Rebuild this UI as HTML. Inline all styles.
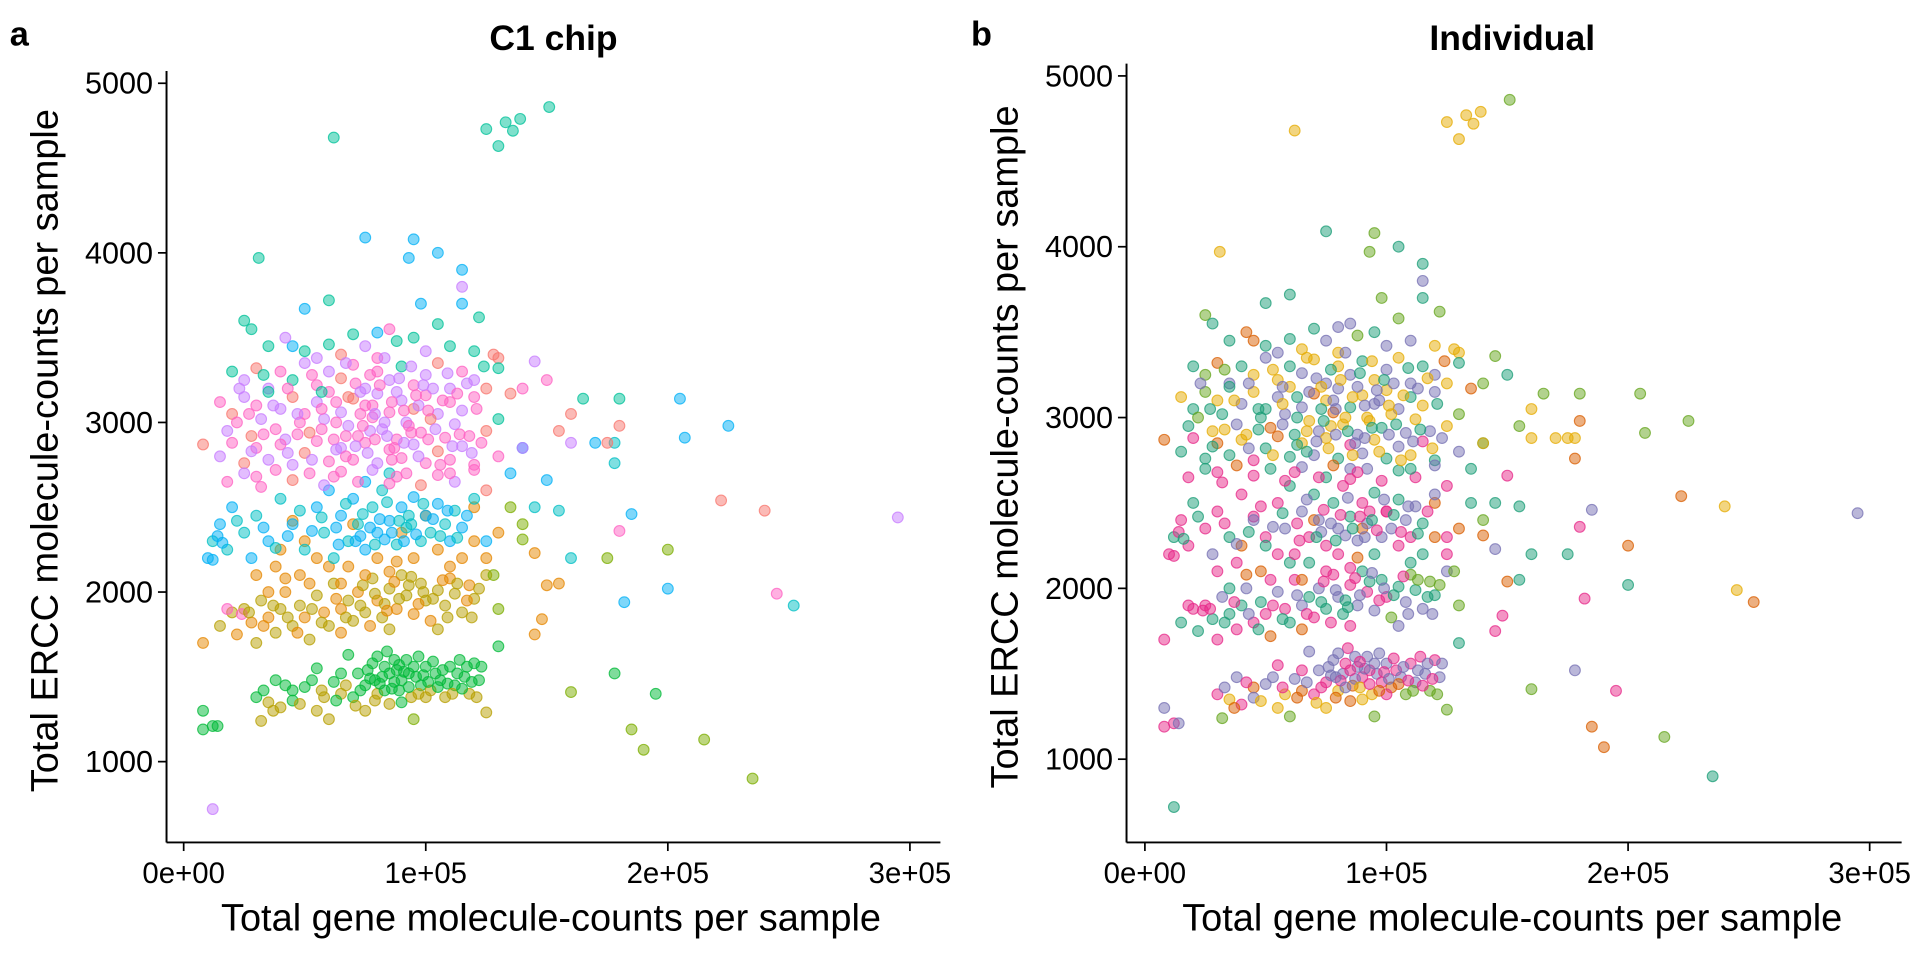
<!DOCTYPE html>
<html><head><meta charset="utf-8"><style>
html,body{margin:0;padding:0;background:#fff;}
svg{display:block;font-family:"Liberation Sans",Arial,sans-serif;}
</style></head><body>
<svg id="chart" width="1920" height="960" viewBox="0 0 1568 784" xmlns="http://www.w3.org/2000/svg">
<g id="panelA"></g>
<g id="panelB"></g>
</svg>
<script>
// data: [x (thousands of gene molecules), y (ERCC molecules), chip id, individual id]
const lowCluster = [[8,1300,0,2],[8,1190,0,3],[12,1210,0,3],[14,1210,0,2],[30,1380,0,3],[32,1240,1,4],[35,1350,1,5],[38,1480,0,2],[40,1320,1,3],[45,1420,0,1],[50,1440,0,2],[55,1550,0,3],[58,1380,1,5],[60,1250,1,4],[62,1470,0,2],[65,1400,1,1],[68,1630,0,2],[70,1380,0,3],[72,1520,0,2],[75,1450,0,3],[78,1580,0,2],[80,1400,1,5],[82,1500,0,2],[84,1650,0,3],[86,1430,0,1],[88,1540,0,2],[90,1480,0,3],[92,1600,0,2],[94,1380,1,5],[96,1500,0,2],[98,1450,0,3],[100,1560,0,2],[102,1420,1,1],[104,1520,0,3],[106,1480,0,2],[108,1380,1,4],[110,1560,0,3],[112,1450,0,2],[114,1600,0,3],[116,1500,0,2],[118,1400,1,4],[120,1580,0,3],[122,1480,0,2],[125,1290,1,4],[130,1680,0,0],[160,1410,9,4],[178,1520,0,2],[195,1400,0,3],[185,1190,9,1],[190,1070,9,1],[215,1130,9,4],[235,900,9,0],[75,1300,1,5],[85,1340,1,1],[95,1250,9,4],[65,1520,0,3],[55,1300,1,5],[45,1360,0,2],[100,1380,1,3],[90,1350,0,5],[80,1620,0,2],[83,1560,0,3],[87,1470,0,2],[93,1520,0,3],[77,1490,0,2],[105,1440,0,1],
[33,1420,0,2],[37,1300,1,1],[42,1450,0,3],[48,1340,1,5],[53,1480,0,2],[57,1420,1,3],[63,1360,0,1],[67,1450,1,2],[71,1330,1,5],[73,1420,0,3],[76,1540,0,2],[79,1360,1,1],[81,1460,0,3],[83,1420,0,2],[85,1520,0,3],[87,1600,0,2],[89,1420,0,5],[91,1530,0,2],[93,1440,0,3],[95,1560,0,2],[97,1400,1,1],[99,1510,0,3],[101,1470,0,2],[103,1590,0,3],[107,1540,0,2],[109,1460,0,3],[111,1400,1,4],[113,1520,0,2],[115,1430,0,3],[117,1560,0,2],[119,1470,0,3],[121,1380,1,4],[123,1560,0,2],[79,1480,0,2],[89,1570,0,3],[97,1620,0,2]];
const oliveCluster = [[8,1700,2,3],[15,1800,1,0],[20,1880,1,3],[22,1750,2,0],[25,1900,1,3],[28,1820,2,0],[30,1700,1,3],[32,1950,1,2],[35,1850,2,0],[38,1760,1,3],[40,1900,1,0],[42,2000,2,2],[45,1800,1,3],[48,1920,1,0],[50,1850,2,3],[52,1720,1,1],[55,1980,1,2],[58,1880,2,3],[60,1800,1,0],[62,2050,1,3],[65,1900,2,2],[68,1950,1,0],[70,1830,1,3],[72,2000,2,2],[75,1880,1,0],[78,2080,1,3],[80,1950,2,2],[82,1850,1,0],[85,2020,1,3],[88,1900,2,2],[90,2100,1,0],[92,1980,1,3],[95,1870,2,2],[98,2050,1,0],[100,1950,1,3],[102,1830,2,4],[105,2010,1,0],[108,1920,1,2],[110,2080,2,4],[112,1990,1,0],[115,1880,1,2],[118,2040,2,4],[120,1960,1,0],[125,2100,1,2],[130,1900,9,4],[105,1780,1,2],[85,1780,1,3],[65,1760,2,1],[18,1900,5,3],[24,1870,5,3],
[27,1880,1,3],[33,1800,2,0],[37,1920,1,3],[43,1850,1,2],[47,1760,2,0],[53,1900,1,3],[57,1820,1,0],[63,1960,2,2],[67,1850,1,3],[73,1920,1,0],[77,1800,2,3],[79,1990,1,2],[83,1930,1,0],[87,2060,2,3],[89,1960,1,2],[93,2040,1,0],[97,1930,2,3],[99,2000,1,2],[103,1960,1,0],[107,2070,2,3],[109,1850,1,2],[113,2050,1,4],[117,1950,2,0],[119,1850,1,2],[122,2020,1,4],[74,2040,1,3],[84,1890,2,0],[94,2090,1,2]];
const orangeCluster = [[30,2100,2,3],[40,2250,2,1],[50,2300,2,3],[60,2150,2,0],[70,2400,2,1],[80,2200,2,3],[90,2350,2,1],[110,2150,2,0],[120,2300,2,1],[125,2200,2,3],[130,2350,2,1],[135,2500,9,0],[140,2310,9,1],[145,2230,2,2],[150,2040,2,1],[148,1840,2,3],[145,1750,2,3],[155,2050,2,0],[175,2200,9,0],[200,2250,9,1],[120,2500,2,1],[100,2450,2,3],[35,2000,2,0],[45,2420,2,3],[65,2050,2,1],[85,2120,2,3],[95,2200,2,0],[128,2100,9,4],[140,2400,9,4],
[38,2150,2,3],[48,2100,2,1],[55,2200,2,3],[68,2150,2,0],[75,2100,2,3],[88,2180,2,1],[105,2250,2,3],[115,2200,2,0],[52,2050,2,3],[42,2080,2,1]];
const blueCluster = [[10,2200,4,3],[12,2300,3,0],[15,2400,4,3],[18,2250,3,3],[20,2500,4,0],[25,2350,3,3],[28,2200,4,2],[30,2450,3,3],[35,2300,4,0],[40,2550,3,3],[45,2400,4,2],[50,2250,3,0],[55,2500,4,3],[58,2350,3,2],[60,2600,4,0],[62,2200,3,3],[65,2450,4,2],[68,2300,3,3],[70,2550,4,0],[72,2400,3,2],[75,2250,4,3],[78,2500,3,0],[80,2350,4,2],[82,2600,3,3],[85,2420,4,0],[88,2280,3,2],[90,2500,4,3],[92,2380,3,2],[95,2560,4,0],[98,2300,3,2],[100,2450,4,3],[102,2350,3,2],[105,2520,4,0],[108,2400,3,2],[110,2300,4,3],[112,2480,3,2],[115,2380,4,0],[120,2550,3,2],[125,2300,4,3],[75,2650,4,0],[85,2700,3,2],[75,4090,4,0],[95,4080,4,4],[93,3970,4,4],[105,4000,4,0],[115,3900,4,0],[98,3700,4,4],[60,3720,7,0],[50,3670,4,0],[80,3530,4,2],[115,3700,4,0],[45,3450,4,1],[150,2660,4,3],[155,2480,3,0],[160,2200,3,0],[178,2880,3,5],[178,2760,3,1],[185,2460,4,2],[182,1940,4,3],[200,2020,4,0],[205,3140,4,4],[207,2910,4,4],[225,2980,4,4],[252,1920,3,1],[145,2500,3,0],[140,2850,4,0],[135,2700,4,0],[170,2880,4,5],[83,2310,4,2],[93,2450,3,3],[73,2330,4,2],[63,2380,4,3],
[14,2330,4,3],[22,2420,3,0],[33,2380,4,3],[38,2260,3,2],[43,2330,4,0],[48,2480,3,3],[53,2360,4,2],[57,2440,3,0],[64,2280,4,3],[67,2520,3,2],[71,2300,4,0],[74,2460,3,3],[77,2380,4,2],[79,2280,3,0],[81,2430,4,3],[84,2530,3,2],[86,2350,4,0],[89,2420,3,3],[91,2300,4,2],[94,2400,3,0],[96,2340,4,3],[99,2520,3,2],[103,2430,4,0],[106,2330,3,3],[109,2480,4,2],[113,2320,3,0],[117,2450,4,3],[12,2190,4,3],[16,2290,4,0]];
const upperCluster = [[25,3600,7,4],[28,3550,7,0],[35,3450,7,0],[42,3500,6,1],[50,3420,7,0],[55,3380,6,2],[60,3460,7,0],[65,3400,8,5],[70,3520,7,0],[75,3450,6,2],[80,3380,5,5],[85,3550,5,2],[88,3480,7,4],[95,3500,7,0],[100,3420,6,2],[105,3580,7,4],[110,3450,7,2],[115,3800,6,2],[120,3420,7,5],[128,3400,8,5],[122,3620,7,4],[130,3380,8,5],[145,3360,6,4],[150,3250,5,0],[31,3970,7,5],[62,4680,7,5],[125,4730,7,5],[130,4630,7,5],[133,4770,7,5],[136,4720,7,5],[139,4790,7,5],[151,4860,7,4],
[20,3300,7,0],[25,3250,6,4],[30,3320,8,1],[35,3200,6,2],[40,3300,5,0],[45,3250,7,5],[50,3350,6,2],[55,3220,5,5],[60,3300,6,0],[65,3260,8,2],[70,3340,5,5],[75,3200,6,2],[80,3300,5,5],[85,3250,6,2],[90,3330,7,0],[95,3220,5,5],[100,3280,6,2],[105,3350,8,5],[110,3200,6,2],[115,3300,5,0],[120,3250,6,2],[125,3200,8,5],[130,3320,7,0],[135,3170,8,1],[140,3200,5,4],[165,3140,7,4],[180,3140,7,4],
[15,3120,5,5],[20,3050,8,0],[25,3150,6,4],[30,3100,5,5],[35,3180,7,0],[40,3080,6,2],[45,3150,8,5],[50,3050,5,0],[55,3120,6,2],[60,3180,5,5],[65,3060,6,2],[70,3140,8,1],[75,3100,5,5],[80,3170,6,2],[85,3060,5,0],[90,3130,6,5],[95,3080,8,2],[100,3160,5,5],[105,3050,6,2],[110,3120,5,0],[115,3070,6,5],[120,3150,5,2],[130,3020,7,4],[160,3050,8,5],
[18,2950,6,0],[22,3000,5,4],[28,2920,8,5],[32,3020,6,0],[38,2960,5,2],[42,2900,6,5],[48,3000,5,0],[52,2940,8,1],[58,3020,6,2],[62,2900,5,0],[68,2980,6,5],[72,2920,5,2],[78,3030,5,1],[82,2960,6,5],[88,2900,5,2],[92,3000,6,5],[98,2940,5,0],[102,3020,8,5],[108,2910,5,2],[112,2990,6,5],[118,2920,5,2],[125,2950,8,5],[140,2850,6,5],[155,2950,8,4],[180,2980,8,1],
[15,2800,6,0],[20,2880,5,3],[25,2760,8,0],[30,2850,5,1],[35,2780,6,0],[40,2870,5,5],[45,2750,6,3],[50,2820,8,0],[55,2890,5,1],[60,2770,5,0],[65,2850,6,5],[70,2780,5,2],[75,2880,5,5],[80,2760,6,0],[85,2840,5,3],[90,2790,5,2],[95,2870,6,5],[100,2760,5,0],[105,2830,8,2],[110,2780,5,5],[115,2860,6,3],[120,2750,5,0],[130,2800,5,2],[8,2870,8,1],
[18,2650,5,3],[25,2700,6,0],[32,2620,5,3],[38,2720,5,1],[45,2660,8,3],[52,2700,5,0],[58,2630,6,3],[65,2710,5,2],[72,2650,5,3],[78,2720,6,1],[85,2640,5,3],[92,2700,5,2],[98,2630,8,3],[105,2690,5,0],[112,2650,6,3],[120,2720,5,2],[125,2600,8,3],[160,2880,6,5],[222,2540,8,1],[240,2480,8,5],[245,1990,5,5],[295,2440,6,2],[180,2360,5,3],[175,2880,8,5],[12,720,6,0],
[78,3100,5,2],[83,3000,6,5],[73,3050,5,0],[88,3180,6,2],[93,2980,5,5],[68,3150,8,2],[63,3000,5,0],[97,3100,6,2],[57,3080,5,5],[87,2850,5,2],[77,2950,6,5],[67,2800,5,0],
[23,3200,6,2],[27,3050,5,0],[33,3280,7,4],[37,3100,6,5],[43,3200,5,2],[47,3050,6,0],[53,3280,5,5],[57,3180,7,2],[63,3120,5,0],[67,3350,6,5],[71,3230,5,2],[73,3180,6,5],[77,3280,5,0],[79,3050,6,2],[81,3220,5,5],[83,3380,6,2],[86,3120,5,5],[89,3260,6,0],[91,3070,5,2],[94,3330,6,5],[96,3160,5,2],[99,3220,6,0],[101,3070,5,5],[103,3200,6,2],[107,3130,5,5],[109,3290,6,0],[113,3170,5,2],[117,3230,6,5],[121,3080,5,0],[124,3330,7,1],
[28,2830,6,0],[33,2930,5,5],[43,2820,6,2],[47,2930,5,0],[53,2780,6,5],[57,2960,5,2],[63,2840,6,0],[67,2920,5,5],[71,2860,6,2],[74,2980,5,0],[76,2820,6,5],[79,2900,5,2],[84,2920,6,0],[86,2780,5,5],[91,2880,6,2],[94,2940,5,0],[97,2800,6,5],[101,2900,5,2],[104,2960,6,0],[106,2750,5,5],[111,2860,6,2],[114,2930,5,0],[119,2820,6,5],[123,2880,5,2],[30,2680,5,3],[62,2680,5,3],[88,2680,5,3],[110,2700,5,0]];
const xTicks = [0, 100, 200, 300];
const xTickLabels = ["0e+00", "1e+05", "2e+05", "3e+05"];
const yTicks = [1000, 2000, 3000, 4000, 5000];
const yTickLabels = ["1000", "2000", "3000", "4000", "5000"];
const chipColors = ["#00BA38","#B79F00","#E58700","#00BFC4","#00B0F6","#FF61C3","#C77CFF","#00C19A","#F8766D","#7CAE00"];
const indivColors = ["#1B9E77","#D95F02","#7570B3","#E7298A","#66A61E","#E6AB02"];

const allPoints = lowCluster.concat(oliveCluster, orangeCluster, blueCluster, upperCluster);
const NS = "http://www.w3.org/2000/svg";
function mk(tag, attrs, parent){const e=document.createElementNS(NS,tag);for(const k in attrs)e.setAttribute(k,attrs[k]);parent.appendChild(e);return e;}

function drawPanel(g, cfg){
  const sx = v => cfg.x0 + v * cfg.xk;
  const sy = v => cfg.y1000 - (v - 1000) * cfg.yk;
  const pg = mk('g', {}, g);
  
  
  allPoints.forEach(p => {
    const col = cfg.colorBy === 'chip' ? chipColors[p[2]] : indivColors[p[3]];
    const c = mk('circle', {cx: sx(p[0]), cy: sy(p[1]), r: 4.4, fill: col, 'fill-opacity': 0.5, stroke: col, 'stroke-opacity': 0.75, 'stroke-width': 0.9}, pg);
    
    
  });
  const ax = mk('line', {x1: cfg.axL, y1: cfg.axTop, x2: cfg.axL, y2: 688, stroke: '#000', 'stroke-width': 1.6}, g);
  
  
  const bx = mk('line', {x1: cfg.axL, y1: 688, x2: cfg.axR, y2: 688, stroke: '#000', 'stroke-width': 1.6}, g);
  
  
  xTicks.forEach((t, i) => {
    mk('line', {x1: sx(t), y1: 688, x2: sx(t), y2: 695, stroke: '#000', 'stroke-width': 1.4}, g);
    const tx = mk('text', {x: sx(t), y: 721, 'font-size': 24, 'text-anchor': 'middle', fill: '#000'}, g);
    tx.textContent = xTickLabels[i];
    
    
  });
  yTicks.forEach((t, i) => {
    mk('line', {x1: cfg.axL - 7, y1: sy(t), x2: cfg.axL, y2: sy(t), stroke: '#000', 'stroke-width': 1.4}, g);
    const tx = mk('text', {x: cfg.axL - 11, y: sy(t) + 8.5, 'font-size': 25, 'text-anchor': 'end', fill: '#000'}, g);
    tx.textContent = yTickLabels[i];
    
    
  });
  const xt = mk('text', {x: cfg.xTitleX, y: 760, 'font-size': 31, 'text-anchor': 'middle'}, g);
  xt.textContent = 'Total gene molecule-counts per sample';
  
  
  const yt = mk('text', {x: 0, y: 0, 'font-size': 31, 'text-anchor': 'middle', transform: `translate(${cfg.yTitleX},${cfg.yTitleY}) rotate(-90)`}, g);
  yt.textContent = 'Total ERCC molecule-counts per sample';
  
  
  const tt = mk('text', {x: cfg.titleX, y: 41, 'font-size': 29, 'font-weight': 'bold', 'text-anchor': 'middle'}, g);
  tt.textContent = cfg.title;
  
  
  const tg = mk('text', {x: cfg.tagX, y: 37, 'font-size': 28, 'font-weight': 'bold'}, g);
  tg.textContent = cfg.tag;
  
  
}
drawPanel(document.getElementById('panelA'), {x0:150, xk:1.977, y1000:622, yk:0.1385, axL:136, axR:768, axTop:58, colorBy:'chip', xTitleX:450, yTitleX:47, yTitleY:368, titleX:452, title:'C1 chip', tagX:8, tag:'a'});
drawPanel(document.getElementById('panelB'), {x0:935, xk:1.973, y1000:620, yk:0.1395, axL:920, axR:1553, axTop:52, colorBy:'indiv', xTitleX:1235, yTitleX:831, yTitleY:365, titleX:1235, title:'Individual', tagX:793, tag:'b'});
</script>
</body></html>
